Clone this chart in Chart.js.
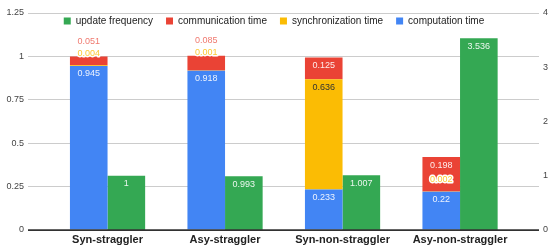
<!DOCTYPE html>
<html>
<head>
<meta charset="utf-8">
<script src="https://cdn.jsdelivr.net/npm/chart.js@4.4.1/dist/chart.umd.min.js"></script>
<style>
html, body { margin: 0; padding: 0; background: #fff; }
#chart { display: block; }
</style>
</head>
<body>
<canvas id="chart" width="548" height="245"></canvas>
<script>
var categories = ["Syn-straggler", "Asy-straggler", "Syn-non-straggler", "Asy-non-straggler"];
var computationTime = [0.945, 0.918, 0.233, 0.22];
var synchronizationTime = [0.004, 0.001, 0.636, 0.002];
var communicationTime = [0.051, 0.085, 0.125, 0.198];
var updateFrequency = [1, 0.993, 1.007, 3.536];
var leftTicks = [0, 0.25, 0.5, 0.75, 1, 1.25];
var rightTicks = [0, 1, 2, 3, 4];

var FONT = '"Liberation Sans", Arial, sans-serif';

function toPoints(arr) {
    return arr.map(function (v, i) { return {x: i, y: v}; });
}

// value labels, roughly like google charts places them
var valueLabels = {
    id: 'valueLabels',
    afterDatasetsDraw: function (chart) {
        var ctx = chart.ctx;
        var yScale = chart.scales.y;
        var area = chart.chartArea;

        // baseline over the bars
        var y0 = yScale.getPixelForValue(0);
        ctx.save();
        ctx.strokeStyle = '#333';
        ctx.lineWidth = 1.5;
        ctx.beginPath();
        ctx.moveTo(area.left, y0);
        ctx.lineTo(area.right, y0);
        ctx.stroke();

        ctx.font = '9px ' + FONT;
        ctx.textAlign = 'center';
        ctx.textBaseline = 'middle';
        ctx.lineJoin = 'round';

        var metas = chart.getSortedVisibleDatasetMetas();
        var stacks = {};
        metas.forEach(function (m) {
            (stacks[m.stack] = stacks[m.stack] || []).push(m);
        });

        for (var i = 0; i < categories.length; i++) {
            Object.keys(stacks).forEach(function (key) {
                var list = stacks[key];
                var stackTop = Infinity;
                list.forEach(function (m) { stackTop = Math.min(stackTop, m.data[i].y); });
                var outsideY = stackTop - 3;
                var inside = list.map(function (m) {
                    var bar = m.data[i];
                    return (bar.base - bar.y) >= 16;
                });
                list.forEach(function (m, k) {
                    var bar = m.data[i];
                    var ds = chart.data.datasets[m.index];
                    var txt = String(ds.data[i].y);
                    if (inside[k]) {
                        ctx.fillStyle = ds.insideText;
                        ctx.fillText(txt, bar.x, bar.y + 8);
                    } else {
                        var ty;
                        if (k + 1 < list.length && inside[k + 1]) {
                            ty = list[k + 1].data[i].y + 22;
                        } else {
                            ty = outsideY;
                            outsideY -= 12;
                        }
                        ctx.strokeStyle = '#fff';
                        ctx.lineWidth = 3;
                        ctx.strokeText(txt, bar.x, ty);
                        ctx.fillStyle = ds.outsideText;
                        ctx.fillText(txt, bar.x, ty);
                    }
                });
            });
        }
        ctx.restore();
    }
};

// legend sits inside the plot area like the original
var legendInside = {
    id: 'legendInside',
    beforeInit: function (chart) {
        var lg = chart.legend;
        var fit = lg.fit;
        lg.fit = function () {
            fit.bind(lg)();
            this.height = 10;
        };
        // no clipping, the items hang below the box
        lg.draw = function () {
            if (this.options.display) this._draw();
        };
    }
};

new Chart("chart", {
    type: "bar",
    data: {
        datasets: [{
            label: "computation time",
            data: toPoints(computationTime),
            backgroundColor: "#4285f4",
            insideText: "rgba(255,255,255,0.9)",
            outsideText: "#4285f4",
            stack: "a",
            yAxisID: "y"
        }, {
            label: "synchronization time",
            data: toPoints(synchronizationTime),
            backgroundColor: "#fbbc04",
            insideText: "#333",
            outsideText: "#fcc934",
            stack: "a",
            yAxisID: "y"
        }, {
            label: "communication time",
            data: toPoints(communicationTime),
            backgroundColor: "#ea4335",
            insideText: "rgba(255,255,255,0.9)",
            outsideText: "#f07a70",
            stack: "a",
            yAxisID: "y"
        }, {
            label: "update frequency",
            data: toPoints(updateFrequency),
            backgroundColor: "#34a853",
            insideText: "rgba(255,255,255,0.9)",
            outsideText: "#34a853",
            stack: "b",
            yAxisID: "y1"
        }]
    },
    options: {
        responsive: false,
        animation: false,
        devicePixelRatio: 1,
        categoryPercentage: 0.64,
        barPercentage: 1,
        borderWidth: 0,
        layout: {padding: {top: 3}},
        plugins: {
            tooltip: {enabled: false},
            legend: {
                position: "top",
                labels: {
                    boxWidth: 7,
                    boxHeight: 7,
                    padding: 13,
                    color: "#222",
                    font: {family: FONT, size: 10},
                    sort: function (a, b) { return b.datasetIndex - a.datasetIndex; }
                }
            }
        },
        scales: {
            x: {
                type: "linear",
                min: -0.677,
                max: 3.672,
                offset: false,
                grid: {display: false, drawTicks: false, offset: false},
                border: {display: false},
                afterBuildTicks: function (s) {
                    s.ticks = categories.map(function (c, i) { return {value: i}; });
                },
                afterFit: function (s) { s.height = 15; },
                ticks: {
                    autoSkip: false,
                    maxRotation: 0,
                    padding: 3,
                    color: "#222",
                    font: {family: FONT, size: 11, weight: "bold"},
                    callback: function (v) { return categories[v]; }
                }
            },
            y: {
                position: "left",
                min: 0,
                max: 1.25,
                border: {display: false},
                grid: {
                    drawTicks: false,
                    color: function (c) { return c.tick && c.tick.value === 0 ? "#333" : "#ccc"; }
                },
                afterBuildTicks: function (s) {
                    s.ticks = leftTicks.map(function (v) { return {value: v}; });
                },
                afterFit: function (s) { s.width = 28; },
                ticks: {
                    padding: 4,
                    color: "#444",
                    font: {family: FONT, size: 9},
                    callback: function (v) { return String(v); }
                }
            },
            y1: {
                position: "right",
                min: 0,
                max: 4,
                border: {display: false},
                grid: {display: false, drawTicks: false},
                afterBuildTicks: function (s) {
                    s.ticks = rightTicks.map(function (v) { return {value: v}; });
                },
                afterFit: function (s) { s.width = 9; },
                ticks: {
                    padding: 4,
                    color: "#444",
                    font: {family: FONT, size: 9},
                    callback: function (v) { return String(v); }
                }
            }
        }
    },
    plugins: [valueLabels, legendInside]
});
</script>
</body>
</html>
